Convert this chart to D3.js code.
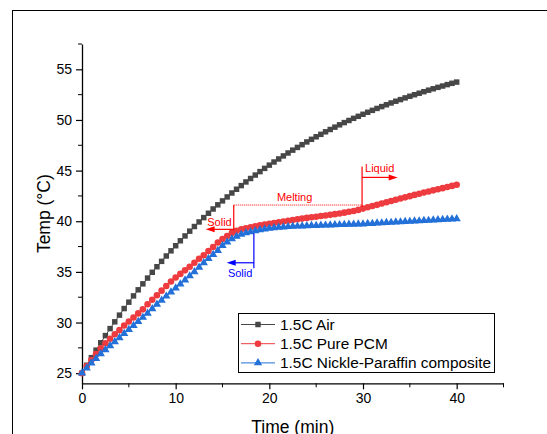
<!DOCTYPE html>
<html>
<head>
<meta charset="utf-8">
<script src="https://cdnjs.cloudflare.com/ajax/libs/d3/7.8.5/d3.min.js"></script>
<style>
  html, body { margin: 0; padding: 0; background: #fff; }
  svg { display: block; font-family: "Liberation Sans", Arial, sans-serif; }
</style>
</head>
<body>
<svg id="chart" width="547" height="434"></svg>
<script>
// temps (min), un point toutes les 30 s
const time = d3.range(81).map((i) => i / 2);

// 1.5C Air
const airTemp = [
  25.0, 25.78, 26.53, 27.27, 28.0, 28.71, 29.4, 30.07, 30.73, 31.38,
  32.01, 32.63, 33.23, 33.82, 34.39, 34.96, 35.51, 36.04, 36.57, 37.08,
  37.58, 38.07, 38.55, 39.02, 39.48, 39.93, 40.36, 40.79, 41.21, 41.62,
  42.01, 42.4, 42.79, 43.16, 43.52, 43.88, 44.22, 44.56, 44.9, 45.22,
  45.54, 45.85, 46.15, 46.45, 46.74, 47.02, 47.29, 47.56, 47.83, 48.09,
  48.34, 48.58, 48.83, 49.06, 49.29, 49.52, 49.74, 49.95, 50.16, 50.36,
  50.56, 50.76, 50.95, 51.14, 51.32, 51.5, 51.68, 51.85, 52.01, 52.18,
  52.34, 52.49, 52.64, 52.79, 52.94, 53.08, 53.22, 53.35, 53.49, 53.62,
  53.74
];

// 1.5C Pure PCM
const pcmTemp = [
  25.0, 25.7, 26.3, 26.9, 27.45, 27.95, 28.4, 28.85, 29.25, 29.7,
  30.1, 30.5, 30.9, 31.3, 31.8, 32.25, 32.7, 33.15, 33.6, 34.05,
  34.45, 34.8, 35.15, 35.5, 35.9, 36.3, 36.65, 37.05, 37.45, 37.9,
  38.25, 38.55, 38.85, 39.05, 39.2, 39.3, 39.4, 39.5, 39.6, 39.68,
  39.76, 39.83, 39.9, 39.98, 40.05, 40.12, 40.19, 40.26, 40.33, 40.39,
  40.45, 40.51, 40.57, 40.63, 40.7, 40.77, 40.85, 40.93, 41.02, 41.12,
  41.25, 41.38, 41.5, 41.62, 41.75, 41.88, 42.0, 42.12, 42.24, 42.36,
  42.48, 42.6, 42.71, 42.83, 42.94, 43.05, 43.16, 43.27, 43.38, 43.49,
  43.6
];

// 1.5C Nickle-Paraffin composite
const nickleTemp = [
  25.0, 25.5, 26.0, 26.45, 26.9, 27.3, 27.7, 28.1, 28.5, 28.9,
  29.3, 29.7, 30.1, 30.5, 30.9, 31.35, 31.8, 32.2, 32.6, 33.0,
  33.4, 33.8, 34.2, 34.6, 35.0, 35.45, 35.9, 36.3, 36.7, 37.1,
  37.6, 37.95, 38.25, 38.5, 38.7, 38.85, 38.95, 39.05, 39.15, 39.23,
  39.3, 39.35, 39.4, 39.43, 39.46, 39.49, 39.51, 39.53, 39.55, 39.57,
  39.58, 39.6, 39.61, 39.63, 39.64, 39.66, 39.67, 39.69, 39.7, 39.72,
  39.73, 39.76, 39.78, 39.81, 39.83, 39.86, 39.88, 39.91, 39.93, 39.96,
  39.98, 40.01, 40.03, 40.06, 40.08, 40.11, 40.13, 40.16, 40.18, 40.21,
  40.23
];

const seriesNames = ["1.5C Air", "1.5C Pure PCM", "1.5C Nickle-Paraffin composite"];
const xTicks = [0, 10, 20, 30, 40];
const yTicks = [25, 30, 35, 40, 45, 50, 55];

// annotations (en unités du graphe)
const redSolid = { x: 16.2, y1: 41.6, y2: 39.1, arrowY: 39.2, arrowTo: 13.2, label: "Solid" };
const redLiquid = { x: 29.9, y1: 45.4, y2: 41.4, arrowY: 44.33, arrowTo: 33.7, label: "Liquid" };
const melting = { x1: 16.2, x2: 29.9, y: 41.6, label: "Melting", labelX: 22.7, labelY: 42.0 };
const blueSolid = { x: 18.35, y1: 38.8, y2: 35.35, arrowY: 35.9, arrowTo: 15.45, label: "Solid" };

const svg = d3.select("#chart");
const margin = { left: 82, top: 44, right: 43.5, bottom: 50.7 };
const W = 547, H = 434;

// cadre extérieur
svg.append("rect")
  .attr("x", 12.5).attr("y", 10.5)
  .attr("width", 600).attr("height", 600)
  .attr("fill", "none").attr("stroke", "#000").attr("stroke-width", 1);

const x = d3.scaleLinear().domain([0, 45]).range([margin.left, W - margin.right]);
const y = d3.scaleLinear().domain([24, 57.5]).range([H - margin.bottom, margin.top]);

// axes
const xAxis = svg.append("g").attr("transform", `translate(0,${y(24)})`)
  .call(d3.axisBottom(x).tickValues(xTicks).tickSize(6).tickSizeOuter(0).tickPadding(4));
xAxis.append("g").selectAll("line")
  .data([5, 15, 25, 35, 45])
  .enter().append("line")
  .attr("x1", (d) => x(d)).attr("x2", (d) => x(d))
  .attr("y1", 0).attr("y2", 4)
  .attr("stroke", "#000");

const yAxis = svg.append("g").attr("transform", `translate(${x(0)},0)`)
  .call(d3.axisLeft(y).tickValues(yTicks).tickSize(6).tickSizeOuter(0).tickPadding(4));
yAxis.append("g").selectAll("line")
  .data([27.5, 32.5, 37.5, 42.5, 47.5, 52.5, 57.5])
  .enter().append("line")
  .attr("x1", 0).attr("x2", -4)
  .attr("y1", (d) => y(d)).attr("y2", (d) => y(d))
  .attr("stroke", "#000");

[xAxis, yAxis].forEach((a) => {
  a.select(".domain").attr("stroke", "#000").attr("stroke-width", 1.3);
  a.selectAll(".tick line").attr("stroke", "#000").attr("stroke-width", 1.2);
  a.selectAll("text")
    .style("font-family", '"Liberation Sans", Arial, sans-serif')
    .style("font-size", "14px").attr("fill", "#000");
});

// titres des axes
svg.append("text")
  .attr("x", x(22.5)).attr("y", 432.5)
  .attr("text-anchor", "middle").style("font-size", "17.5px")
  .text("Time (min)");
svg.append("text")
  .attr("transform", `translate(50,${y(40.75)}) rotate(-90)`)
  .attr("text-anchor", "middle").style("font-size", "17.5px")
  .text("Temp (°C)");

// séries
const series = [
  { name: seriesNames[0], values: airTemp, color: "#474747", symbol: d3.symbolSquare, size: 30 },
  { name: seriesNames[1], values: pcmTemp, color: "#ee3b3f", symbol: d3.symbolCircle, size: 34 },
  { name: seriesNames[2], values: nickleTemp, color: "#2270d8", symbol: d3.symbolTriangle, size: 30 },
];

const line = d3.line().x((d) => x(d[0])).y((d) => y(d[1]));

series.forEach((s) => {
  const pts = time.map((t, i) => [t, s.values[i]]);
  svg.append("path")
    .datum(pts)
    .attr("d", line)
    .attr("fill", "none")
    .attr("stroke", s.color)
    .attr("stroke-width", 1);
  svg.append("g").selectAll("path")
    .data(pts)
    .enter().append("path")
    .attr("d", d3.symbol().type(s.symbol).size(s.size))
    .attr("transform", (d) => `translate(${x(d[0])},${y(d[1])})`)
    .attr("fill", s.color);
});

// annotations
function arrowHead(g, xTip, yTip, dir, color) {
  // dir = -1 vers la gauche, 1 vers la droite
  g.append("path")
    .attr("d", `M${xTip},${yTip} L${xTip - dir * 9},${yTip - 3} L${xTip - dir * 9},${yTip + 3} Z`)
    .attr("fill", color);
}

function phaseMark(a, color, dir, labelAnchor, labelDx, labelY) {
  const g = svg.append("g");
  g.append("line")
    .attr("x1", x(a.x)).attr("x2", x(a.x))
    .attr("y1", y(a.y1)).attr("y2", y(a.y2))
    .attr("stroke", color).attr("stroke-width", 1.2);
  g.append("line")
    .attr("x1", x(a.x)).attr("x2", x(a.arrowTo) - dir * 6)
    .attr("y1", y(a.arrowY)).attr("y2", y(a.arrowY))
    .attr("stroke", color).attr("stroke-width", 1.2);
  arrowHead(g, x(a.arrowTo), y(a.arrowY), dir, color);
  g.append("text")
    .attr("x", x(a.x) + labelDx).attr("y", labelY)
    .attr("text-anchor", labelAnchor)
    .attr("fill", color).style("font-size", "11px")
    .text(a.label);
}

phaseMark(redSolid, "#ff0000", -1, "end", -2, y(redSolid.arrowY) - 3.5);
phaseMark(redLiquid, "#ff0000", 1, "start", 3, y(redLiquid.arrowY) - 5);
phaseMark(blueSolid, "#0000ff", -1, "start", -26, y(blueSolid.arrowY) + 14.5);

svg.append("line")
  .attr("x1", x(melting.x1)).attr("x2", x(melting.x2))
  .attr("y1", y(melting.y)).attr("y2", y(melting.y))
  .attr("stroke", "#ff0000").attr("stroke-width", 1)
  .attr("stroke-dasharray", "1,1");
svg.append("text")
  .attr("x", x(melting.labelX)).attr("y", y(melting.labelY))
  .attr("text-anchor", "middle")
  .attr("fill", "#ff0000").style("font-size", "11px")
  .text(melting.label);

// légende
const legend = svg.append("g");
legend.append("rect")
  .attr("x", 238.5).attr("y", 313.5)
  .attr("width", 256).attr("height", 59)
  .attr("fill", "#fff").attr("stroke", "#000").attr("stroke-width", 1);
series.forEach((s, i) => {
  const cy = 324.5 + i * 19.2;
  legend.append("line")
    .attr("x1", 241).attr("x2", 275)
    .attr("y1", cy).attr("y2", cy)
    .attr("stroke", s.color).attr("stroke-width", 1);
  legend.append("path")
    .attr("d", d3.symbol().type(s.symbol).size(s.size))
    .attr("transform", `translate(258,${cy})`)
    .attr("fill", s.color);
  legend.append("text")
    .attr("x", 280).attr("y", cy + 5.5)
    .style("font-size", "15.4px")
    .text(s.name);
});
</script>
</body>
</html>
